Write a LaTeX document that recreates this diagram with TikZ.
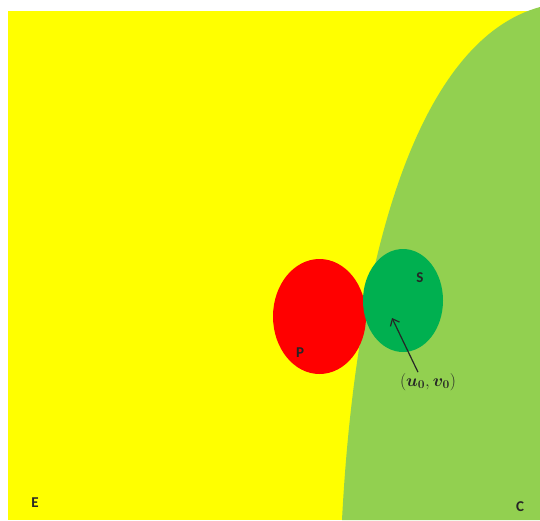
\documentclass[tikz,border=0pt]{standalone}
\usepackage{fontspec}
\usepackage{bm}
\setmainfont{Carlito}
\usetikzlibrary{arrows.meta}
\definecolor{yel}{HTML}{FFFF00}
\definecolor{lgreen}{HTML}{92D050}
\definecolor{dgreen}{HTML}{00B050}
\definecolor{redf}{HTML}{FF0000}
\tikzset{
  lbl/.style={font=\fontsize{15}{17}\selectfont\bfseries, text=black!85, inner sep=0pt},
  blob/.style={ellipse, draw=none, inner sep=0pt},
}
\usetikzlibrary{shapes.geometric}
\begin{document}
\begin{tikzpicture}[x=1pt,y=-1pt]
\useasboundingbox (0,0) rectangle (540,520);
\fill[white] (0,0) rectangle (540,520);
\fill[yel] (8,11) rectangle (540,520);
\fill[lgreen] (342,520) .. controls (356,250) and (420,40) .. (540,7) -- (540,520) -- cycle;
\node[blob, fill=redf, minimum width=93pt, minimum height=115pt] (P) at (319.5,316.5) {};
\node[blob, fill=dgreen, minimum width=80pt, minimum height=103pt] (S) at (403,300.5) {};
\node[lbl] (Slab) at (420,278) {S};
\node[lbl] (Plab) at (300,353) {P};
\node[lbl] (E) at (35,503) {E};
\node[lbl] (C) at (520,507) {C};
\node[inner sep=0pt, font=\fontsize{18}{20}\selectfont, text=black!85] (uv) at (428,382) {$(\bm{u_0},\bm{v_0})$};
\coordinate (pt) at (392,318);
\draw[black!85, line width=1.2pt, -{Straight Barb[length=6pt,width=10pt]}] ([xshift=-10pt,yshift=1pt]uv.north) -- (pt);
\end{tikzpicture}
\end{document}
